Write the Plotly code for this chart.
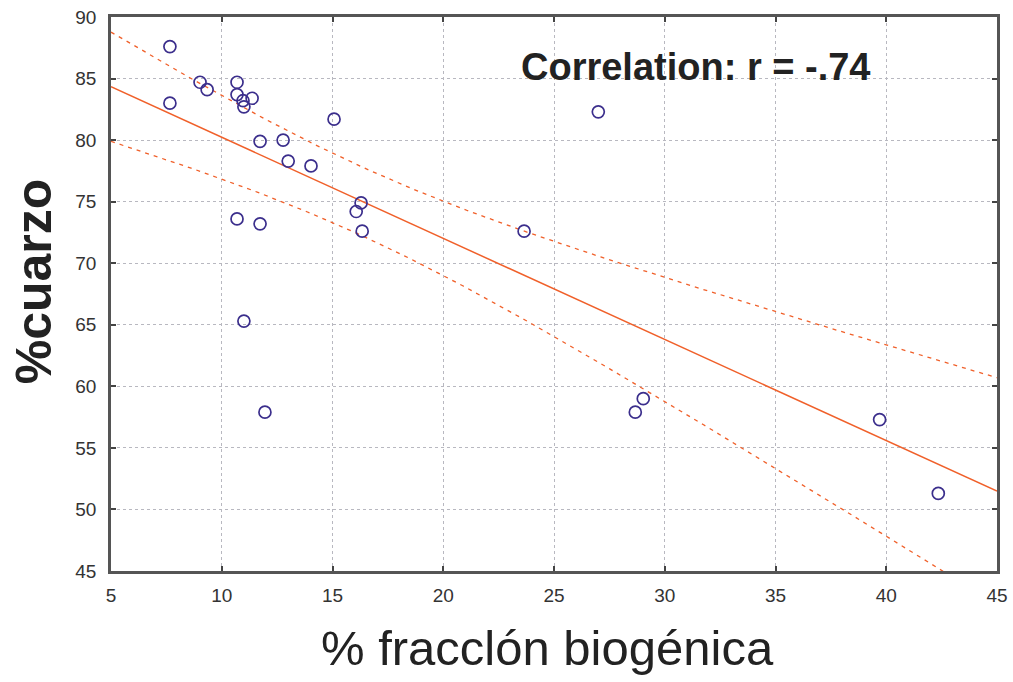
import numpy as np
import plotly.graph_objects as go

# data
biogenica = [7.66, 7.66, 9.02, 9.34, 10.69, 10.69, 10.96, 11.0, 11.37, 11.73,
             12.77, 13.0, 14.03, 15.07, 10.69, 11.73, 11.0, 11.95, 16.07, 16.29,
             16.34, 23.65, 27.0, 28.67, 29.03, 39.7, 42.35]
cuarzo = [87.6, 83.0, 84.7, 84.1, 84.7, 83.7, 83.2, 82.7, 83.4, 79.9,
          80.0, 78.3, 77.9, 81.7, 73.6, 73.2, 65.3, 57.9, 74.2, 74.9,
          72.6, 72.6, 82.3, 57.9, 59.0, 57.3, 51.3]
x_ticks = [5, 10, 15, 20, 25, 30, 35, 40, 45]
y_ticks = [45, 50, 55, 60, 65, 70, 75, 80, 85, 90]
t_crit = 2.06  # t(0.975, df=25)

x = np.array(biogenica)
y = np.array(cuarzo)
n = len(x)
slope, intercept = np.polyfit(x, y, 1)
r = np.corrcoef(x, y)[0, 1]
xs = np.linspace(x_ticks[0], x_ticks[-1], 200)
yhat = intercept + slope * xs
resid = y - (intercept + slope * x)
s = np.sqrt(np.sum(resid ** 2) / (n - 2))
se = s * np.sqrt(1 / n + (xs - x.mean()) ** 2 / np.sum((x - x.mean()) ** 2))
upper = yhat + t_crit * se
lower = yhat - t_crit * se

line_color = "#F0602A"
fig = go.Figure()
fig.add_trace(go.Scatter(x=xs, y=upper, mode="lines",
                         line=dict(color=line_color, width=1.3, dash="4px,5px"), hoverinfo="skip"))
fig.add_trace(go.Scatter(x=xs, y=lower, mode="lines",
                         line=dict(color=line_color, width=1.3, dash="4px,5px"), hoverinfo="skip"))
fig.add_trace(go.Scatter(x=xs, y=yhat, mode="lines",
                         line=dict(color=line_color, width=1.5), hoverinfo="skip"))
fig.add_trace(go.Scatter(x=biogenica, y=cuarzo, mode="markers",
                         marker=dict(symbol="circle-open", size=12, color="#3B2E8C",
                                     line=dict(width=1.7, color="#3B2E8C"))))

axis_common = dict(showline=True, linecolor="#555", linewidth=2.5, mirror="ticks",
                   ticks="inside", ticklen=5, tickcolor="#444", tickwidth=2,
                   showgrid=True, gridcolor="#B8B8C0", griddash="dot", gridwidth=1,
                   zeroline=False, automargin=False, ticklabeloverflow="allow",
                   tickfont=dict(family="Liberation Sans, Arial", size=19, color="#333"))
fig.update_xaxes(range=[5, 45], tickvals=x_ticks, ticklabelstandoff=5, **axis_common)
fig.update_yaxes(range=[45, 90], tickvals=y_ticks, ticklabelstandoff=8, **axis_common)
fig.add_annotation(x=0.66, y=0.91, xref="paper", yref="paper", showarrow=False,
                   xanchor="center", yanchor="middle",
                   text="<b>Correlation: r = %s</b>" % ("-." + f"{abs(r):.2f}"[2:]),
                   font=dict(family="Liberation Sans, Arial", size=38, color="#222"))
# axis titles
fig.add_annotation(x=0.493, y=0, xref="paper", yref="paper", showarrow=False,
                   xanchor="center", yanchor="top", yshift=-48,
                   text="% fracclón biogénica",
                   font=dict(family="Liberation Sans, Arial", size=49, color="#222"))
fig.add_annotation(x=0, y=0.523, xref="paper", yref="paper", showarrow=False,
                   xanchor="center", yanchor="middle", xshift=-77, textangle=-90,
                   text="<b>%cuarzo</b>",
                   font=dict(family="Liberation Sans, Arial", size=50, color="#222"))
fig.update_layout(width=1013, height=682, showlegend=False,
                  plot_bgcolor="white", paper_bgcolor="white",
                  margin=dict(l=111, r=16, t=17, b=111, autoexpand=False))
fig.write_html("out.html", config={"displayModeBar": False},
               post_script="document.body.style.margin='0';document.body.style.overflow='hidden';")
